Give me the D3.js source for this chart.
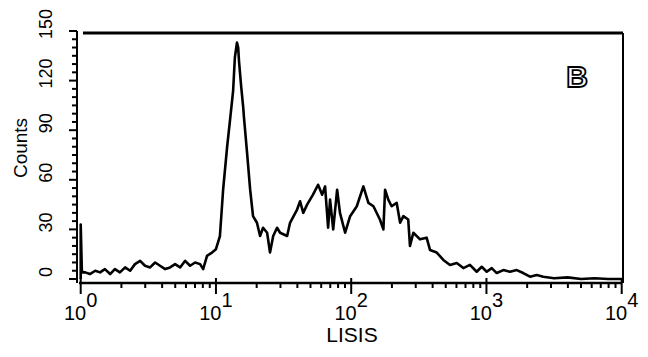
<!DOCTYPE html>
<html><head><meta charset="utf-8">
<script src="https://cdn.jsdelivr.net/npm/d3@7"></script>
<style>
html,body{margin:0;padding:0;background:#fff;}
svg{display:block;}
text{font-family:"Liberation Sans",Arial,Helvetica,sans-serif;fill:#000;}
</style></head><body>
<svg id="chart" width="648" height="357"></svg>
<script>
// LISIS channel values (log axis) and counts
const lisis = [1.00,1.02,1.04,1.08,1.17,1.28,1.39,1.51,1.65,1.79,1.95,2.13,2.32,2.52,2.75,2.99,3.26,3.55,3.86,4.21,4.58,4.99,5.43,5.92,6.44,7.01,7.64,8.04,8.59,9.35,10.0,10.7,11.3,12.1,12.7,13.4,13.8,14.3,14.6,14.8,15.3,15.9,16.1,17.0,17.9,18.8,20.1,21.2,22.3,23.9,25.1,26.5,28.3,29.8,33.6,35.3,39.8,41.9,44.2,47.2,52.2,56.9,61.0,64.1,67.5,69.8,73.6,78.7,82.6,90.2,98.2,110,123,134,146,163,173,178,188,199,217,230,243,264,272,288,323,361,383,429,480,538,603,675,755,847,923,1005,1094,1191,1334,1493,1675,1871,2099,2355,2630,3162,3981,5012,6310,7943,10000];
const counts = [33,5,4,4,3,5,4,6,3,6,4,7,5,9,11,8,7,10,8,6,7,9,7,11,8,10,9,6,14,16,18,26,54,80,96,114,134,143,140,132,118,104,98,76,54,38,34,26,31,28,16,26,31,28,26,34,42,47,40,45,51,57,51,56,31,48,30,54,40,28,38,44,56,46,44,36,30,54,48,44,46,34,38,36,20,28,24,25,17.5,16,11.5,8.5,9.7,6.6,8.5,4.4,7.4,4.4,6.6,3.6,5.4,4.4,5.4,3.6,1.4,2.4,1.4,0.5,1,0,0.5,0,0];
const yTicks = [0,30,60,90,120,150];
const xDecades = [1,10,100,1000,10000];
const xExponents = ["0","1","2","3","4"];
const xTitle = "LISIS";
const yTitle = "Counts";
const panelLabel = "B";

const svg = d3.select("#chart");
const x = d3.scaleLog().domain([1,10000]).range([80.7,621.7]);
const y = d3.scaleLinear().domain([0,150]).range([279,31]);

// frame: top and right borders
svg.append("line").attr("x1",83).attr("x2",623).attr("y1",33).attr("y2",33)
  .attr("stroke","#000").attr("stroke-width",3);
svg.append("line").attr("x1",623).attr("x2",623).attr("y1",33).attr("y2",283)
  .attr("stroke","#000").attr("stroke-width",2);

// y axis
const yMinor = d3.range(0,151,5);
const yAxis = svg.append("g");
yAxis.append("line").attr("x1",77).attr("x2",77).attr("y1",31).attr("y2",283)
  .attr("stroke","#000").attr("stroke-width",2);
yAxis.selectAll("line.minor").data(yMinor).join("line").attr("class","minor")
  .attr("x1",77).attr("x2",d=>d%30===0?69:72)
  .attr("y1",d=>y(d)).attr("y2",d=>y(d))
  .attr("stroke","#000").attr("stroke-width",2);
yAxis.selectAll("text").data(yTicks).join("text")
  .attr("transform",d=>`translate(46,${y(d)-7}) rotate(-90)`)
  .attr("text-anchor","middle").attr("dy","0.36em")
  .style("font-size","18px").text(d=>d);

// x axis
const xAxis = svg.append("g");
xAxis.append("line").attr("x1",79).attr("x2",622).attr("y1",283).attr("y2",283)
  .attr("stroke","#000").attr("stroke-width",2.5);
const minor = [];
xDecades.slice(0,-1).forEach(d=>{ for(let k=2;k<=9;k++) minor.push(d*k); });
xAxis.selectAll("line.minor").data(minor).join("line").attr("class","minor")
  .attr("x1",d=>x(d)).attr("x2",d=>x(d)).attr("y1",283).attr("y2",288)
  .attr("stroke","#000").attr("stroke-width",2);
xAxis.selectAll("line.major").data(xDecades).join("line").attr("class","major")
  .attr("x1",d=>x(d)).attr("x2",d=>x(d)).attr("y1",278).attr("y2",294)
  .attr("stroke","#000").attr("stroke-width",2);
const xl = xAxis.selectAll("text").data(xDecades).join("text")
  .attr("x",d=>x(d)).attr("y",320).attr("text-anchor","middle")
  .style("font-size","20px");
xl.append("tspan").text("10");
xl.append("tspan").attr("dy",-13).text((d,i)=>xExponents[i]);

// titles
svg.append("text").attr("x",352).attr("y",342).attr("text-anchor","middle")
  .style("font-size","21px").text(xTitle);
svg.append("text").attr("transform","translate(20,148) rotate(-90)")
  .attr("text-anchor","middle").attr("dy","0.36em")
  .style("font-size","19px").text(yTitle);

// histogram line
const pts = lisis.map((v,i)=>[v,counts[i]]);
const line = d3.line().x(d=>x(d[0])).y(d=>y(d[1]));
svg.append("path").datum([[1,0]].concat(pts)).attr("d",line)
  .attr("fill","none").attr("stroke","#000").attr("stroke-width",2.6)
  .attr("stroke-linejoin","round");

// panel label
svg.append("text").attr("x",577).attr("y",87).attr("text-anchor","middle")
  .style("font-size","30px").style("font-weight","bold")
  .style("fill","#fff").attr("stroke","#000").attr("stroke-width",1.8)
  .text(panelLabel);
</script>
</body></html>
